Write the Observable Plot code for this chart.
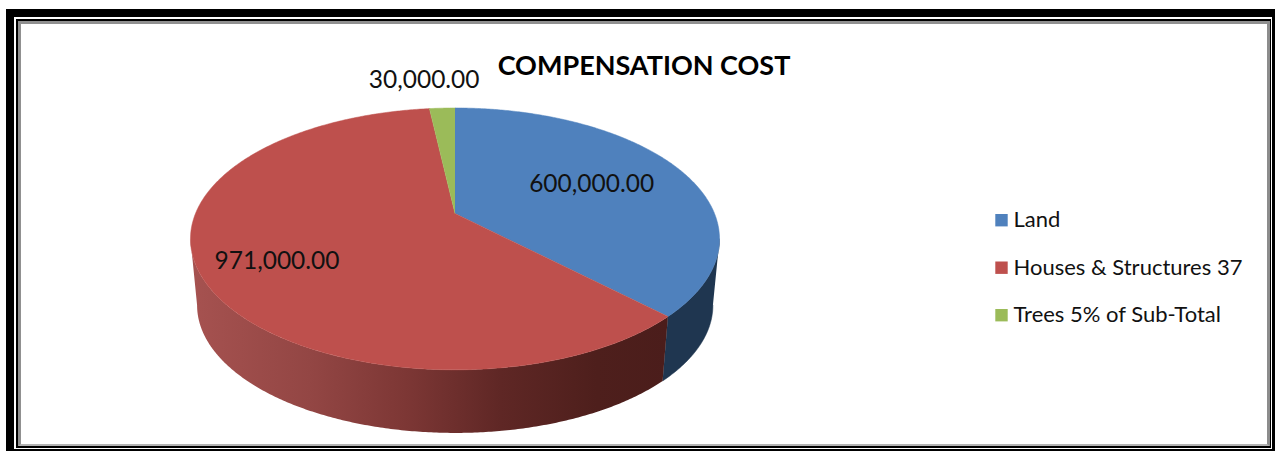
<!DOCTYPE html>
<html>
<head>
<meta charset="utf-8">
<script src="https://cdn.jsdelivr.net/npm/d3@7"></script>
<script src="https://cdn.jsdelivr.net/npm/@observablehq/plot@0.6"></script>
<style>
  html, body { margin: 0; padding: 0; background: #fff; }
  #sheet { position: relative; width: 1275px; height: 451px; overflow: hidden; }
  #sheet svg { position: absolute; left: 0; top: 0; background: transparent; }
  .rule { position: absolute; box-sizing: border-box; border-style: solid; }
</style>
</head>
<body>
<div id="sheet">
  <div class="rule" style="left:6px;top:9px;right:0;bottom:0;border-width:8px 3px 2px 8px;border-color:#000"></div>
  <div class="rule" style="left:16px;top:19px;right:4px;bottom:3px;border-width:2px 1px 2px 2px;border-color:#000"></div>
  <div class="rule" style="left:18px;top:21px;right:5px;bottom:5px;border-width:3px 3px 2px 3px;border-color:#909090 #8c8c8c #b4b4b4 #909090"></div>
</div>
<script>
// Compensation cost by component
const titleText = "COMPENSATION COST";
const categories = ["Land", "Houses & Structures 37", "Trees 5% of Sub-Total"];
const costs = [600000, 971000, 30000];
const sliceColors = ["#4F81BD", "#BE504D", "#9BBB59"];

// Perspective of the tilted disc: a homography from the unit circle to the page
const apexX = 454.5, apexY = 213;
const spreadX = 259.5, spreadY = 126, tilt = -0.194;
const depth = 67, baseScale = 0.975;

function project(thetaDeg, radius = 1, base = false) {
  const t = thetaDeg * Math.PI / 180;
  const u = radius * Math.sin(t), v = -radius * Math.cos(t);
  const w = 1 + tilt * v, s = base ? baseScale : 1;
  return {
    x: apexX + s * spreadX * u / w,
    y: apexY + (base ? depth : 0) + s * spreadY * v / w
  };
}

// Slice angles, clockwise from twelve o'clock
const total = d3.sum(costs);
let running = 0;
const slices = categories.map((category, i) => {
  const start = running / total * 360;
  running += costs[i];
  return { category, cost: costs[i], start, end: running / total * 360 };
});

function arc(from, to, base = false) {
  const n = Math.max(2, Math.ceil(Math.abs(to - from) / 0.5));
  return d3.range(n + 1).map(k => project(from + (to - from) * k / n, 1, base));
}

const topFaces = slices.flatMap(s =>
  [project(0, 0), ...arc(s.start, s.end)].map(p => ({ ...p, category: s.category }))
);

// Silhouette angles where the rim leaves the disc on the right and on the left
const rimRight = 101.2, rimLeft = 258.8;
const wall = (from, to) => [...arc(from, to), ...arc(to, from, true)];
const blueWall = wall(rimRight, slices[0].end);
const redWall = wall(slices[0].end, rimLeft);

// Value labels sit along each slice's mid-angle
const labelRadius = [0.6, 0.72, 1.2];
const labelNudge = [[-1, -2], [1, 5], [-16, -11]];
const valueLabels = slices.map((s, i) => {
  const p = project((s.start + s.end) / 2, labelRadius[i]);
  return { x: p.x + labelNudge[i][0], y: p.y + labelNudge[i][1], text: d3.format(",.2f")(s.cost) };
});

const legendRows = categories.map((category, i) => ({ category, row: i }));
const legendX = 1001, legendTop = 219.7, legendStep = 47.5;
const font = "Lato, 'Open Sans', sans-serif";

function wallGradient() {
  const defs = d3.create("svg:defs");
  const g = defs.append("linearGradient").attr("id", "redWallShade");
  [[0, "#a65250"], [0.25, "#934644"], [0.45, "#7d3735"], [0.65, "#5f2725"], [0.85, "#4e1f1c"], [1, "#4b1d1b"]]
    .forEach(([o, c]) => g.append("stop").attr("offset", o).attr("stop-color", c));
  return defs.node();
}

const chart = Plot.plot({
  width: 1275,
  height: 451,
  margin: 0,
  style: { background: "transparent" },
  x: { type: "identity", axis: null },
  y: { type: "identity", axis: null },
  color: { domain: categories, range: sliceColors },
  marks: [
    wallGradient,
    Plot.line(blueWall, { x: "x", y: "y", fill: "#1F3650", stroke: "#1F3650", strokeWidth: 0.5 }),
    Plot.line(redWall, { x: "x", y: "y", fill: "url(#redWallShade)", stroke: "none" }),
    Plot.line(topFaces, { x: "x", y: "y", z: "category", fill: "category", stroke: "category", strokeWidth: 0.5 }),
    Plot.text(valueLabels, {
      x: "x", y: "y", text: "text", fontFamily: font, fontSize: 24.5, fill: "#111", textAnchor: "middle"
    }),
    Plot.text([titleText], {
      x: () => 643.5, y: () => 66, text: d => d, fontFamily: font, fontWeight: 700, fontSize: 27, fill: "#000", textAnchor: "middle"
    }),
    Plot.dot(legendRows, {
      x: () => legendX, y: d => legendTop + d.row * legendStep,
      symbol: "square", r: 7, fill: "category", stroke: "none"
    }),
    Plot.text(legendRows, {
      x: () => legendX + 12, y: d => legendTop + d.row * legendStep, text: "category",
      fontFamily: font, fontSize: 22, fill: "#111", textAnchor: "start"
    })
  ]
});
document.getElementById("sheet").appendChild(chart);
</script>
</body>
</html>
